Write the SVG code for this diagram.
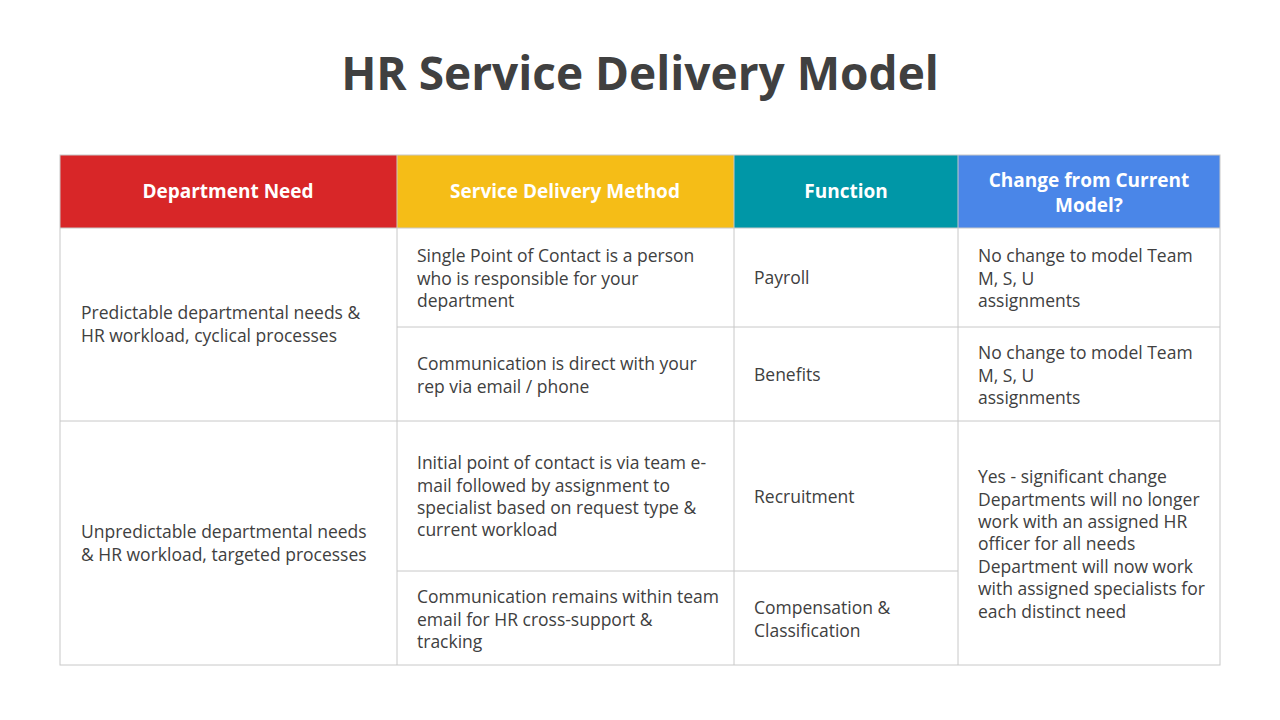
<svg xmlns="http://www.w3.org/2000/svg" width="1280" height="720" viewBox="0 0 1280 720">
<style>
.t{font-family:"Open Sans","Liberation Sans",sans-serif;font-size:17.5px;fill:#404040}
.h{font-family:"Open Sans","Liberation Sans",sans-serif;font-size:19px;font-weight:bold;fill:#fff;text-anchor:middle}
.g{stroke:#c8c8c8;stroke-width:1;fill:none}
</style>
<rect width="1280" height="720" fill="#fff"/>
<text x="640" y="90" text-anchor="middle" font-family="Open Sans,Liberation Sans,sans-serif" font-size="46" font-weight="bold" fill="#404040">HR Service Delivery Model</text>
<g id="header">
<rect x="60" y="155" width="337" height="73" fill="#D82628"/>
<rect x="397" y="155" width="337" height="73" fill="#F5BD17"/>
<rect x="734" y="155" width="224" height="73" fill="#0097A7"/>
<rect x="958" y="155" width="262" height="73" fill="#4A86E8"/>
<text class="h" x="228" y="198">Department  Need</text>
<text class="h" x="565" y="198">Service  Delivery  Method</text>
<text class="h" x="846" y="198">Function</text>
<text class="h" x="1089" y="187">Change from Current</text>
<text class="h" x="1089" y="212">Model?</text>
</g>
<g id="grid">
<rect class="g" x="60" y="155" width="1160" height="510"/>
<line class="g" x1="60" y1="228" x2="1220" y2="228"/>
<line class="g" x1="60" y1="421" x2="1220" y2="421"/>
<line class="g" x1="397" y1="327" x2="1220" y2="327"/>
<line class="g" x1="397" y1="571" x2="958" y2="571"/>
<line class="g" x1="397" y1="155" x2="397" y2="665"/>
<line class="g" x1="734" y1="155" x2="734" y2="665"/>
<line class="g" x1="958" y1="155" x2="958" y2="665"/>
</g>
<g id="cells">
<text class="t" x="81" y="319">Predictable departmental needs &amp;</text>
<text class="t" x="81" y="342">HR workload, cyclical processes</text>
<text class="t" x="81" y="538">Unpredictable departmental needs</text>
<text class="t" x="81" y="561">&amp; HR workload, targeted processes</text>
<text class="t" x="417" y="262">Single Point of Contact is a person</text>
<text class="t" x="417" y="285">who is responsible for your</text>
<text class="t" x="417" y="307">department</text>
<text class="t" x="417" y="370">Communication is direct with your</text>
<text class="t" x="417" y="393">rep via email / phone</text>
<text class="t" x="417" y="469">Initial point of contact is via team e-</text>
<text class="t" x="417" y="492">mail followed by assignment to</text>
<text class="t" x="417" y="514">specialist based on request type &amp;</text>
<text class="t" x="417" y="536">current workload</text>
<text class="t" x="417" y="603">Communication remains within team</text>
<text class="t" x="417" y="626">email for HR cross-support &amp;</text>
<text class="t" x="417" y="648">tracking</text>
<text class="t" x="754" y="284">Payroll</text>
<text class="t" x="754" y="381">Benefits</text>
<text class="t" x="754" y="503">Recruitment</text>
<text class="t" x="754" y="614">Compensation &amp;</text>
<text class="t" x="754" y="637">Classification</text>
<text class="t" x="978" y="262">No change to model Team</text>
<text class="t" x="978" y="285">M, S, U</text>
<text class="t" x="978" y="307">assignments</text>
<text class="t" x="978" y="359">No change to model Team</text>
<text class="t" x="978" y="382">M, S, U</text>
<text class="t" x="978" y="404">assignments</text>
<text class="t" x="978" y="483">Yes - significant change</text>
<text class="t" x="978" y="506">Departments will no longer</text>
<text class="t" x="978" y="528">work with an assigned HR</text>
<text class="t" x="978" y="550">officer for all needs</text>
<text class="t" x="978" y="573">Department will now work</text>
<text class="t" x="978" y="595">with assigned specialists for</text>
<text class="t" x="978" y="618">each distinct need</text>
</g>
</svg>
